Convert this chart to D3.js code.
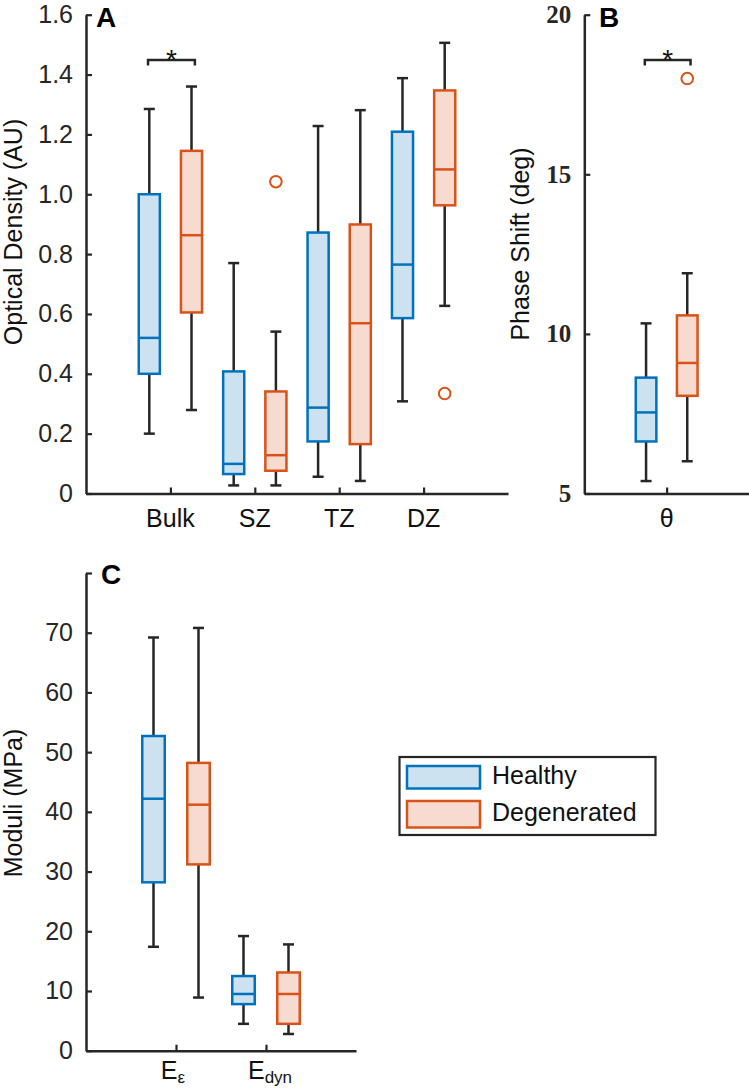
<!DOCTYPE html>
<html>
<head>
<meta charset="utf-8">
<script src="https://cdn.jsdelivr.net/npm/d3@7"></script>
<style>
  body { margin: 0; background: #fff; }
  text { font-family: "Liberation Sans", Arial, sans-serif; }
</style>
</head>
<body>
<svg id="fig" width="749" height="1090"></svg>
<script>
// box summaries are [min, q1, median, q3, max]
const zones = ["Bulk", "SZ", "TZ", "DZ"];
const odHealthy = [
    [0.20, 0.40, 0.52, 1.00, 1.285],
    [0.027, 0.065, 0.099, 0.408, 0.77],
    [0.056, 0.174, 0.287, 0.872, 1.228],
    [0.308, 0.586, 0.765, 1.209, 1.388]
];
const odDegen = [
    [0.279, 0.605, 0.863, 1.145, 1.36],
    [0.027, 0.076, 0.128, 0.341, 0.541],
    [0.042, 0.165, 0.569, 0.899, 1.281],
    [0.627, 0.963, 1.083, 1.347, 1.506]
];
const odOutliersDegen = [[1, 1.042], [3, 0.334]]; // [zone index, value]
const odTicks = [0, 0.2, 0.4, 0.6, 0.8, 1.0, 1.2, 1.4, 1.6];

const phaseCats = ["θ"];
const phaseHealthy = [[5.39, 6.63, 7.54, 8.63, 10.33]];
const phaseDegen = [[6.01, 8.06, 9.09, 10.58, 11.9]];
const phaseOutliersDegen = [[0, 18.0]];
const phaseTicks = [5, 10, 15, 20];

const moduliCats = ["E", "E"];
const moduliSubs = ["ε", "dyn"];
const moduliHealthy = [
    [17.4, 28.2, 42.2, 52.7, 69.2],
    [4.5, 7.8, 9.5, 12.5, 19.2]
];
const moduliDegen = [
    [8.9, 31.2, 41.2, 48.2, 70.8],
    [2.8, 4.5, 9.5, 13.1, 17.8]
];
const moduliTicks = [0, 10, 20, 30, 40, 50, 60, 70, 80];

const groups = ["Healthy", "Degenerated"];

const ink = "#262626";
const colors = {
    Healthy: {stroke: "#0072BD", fill: "#cde2f1"},
    Degenerated: {stroke: "#D95319", fill: "#f7dbd0"}
};

const svg = d3.select("#fig");

const drawPanel = function (opt) {
    const g = svg.append("g").attr("class", "panel-" + opt.letter);
    const n = opt.cats.length;
    const x = d3.scaleLinear().domain([0, n + 1]).range([opt.left, opt.right]);
    const y = d3.scaleLinear().domain(opt.yDomain).range([opt.bottom, opt.top]);
    const unit = x(1) - x(0);
    const boxW = 0.25 * unit,
        capW = 5.5;

    // axes, ticks pointing inward
    const yAxis = d3.axisLeft(y)
        .tickValues(opt.ticks)
        .tickFormat(opt.fmt)
        .tickSizeInner(-6)
        .tickSizeOuter(0)
        .tickPadding(13);
    const xAxis = d3.axisBottom(x)
        .tickValues(d3.range(1, n + 1))
        .tickFormat("")
        .tickSizeInner(-6)
        .tickSizeOuter(0);

    const ya = g.append("g").attr("transform", `translate(${opt.left},0)`).call(yAxis);
    const xa = g.append("g").attr("transform", `translate(0,${opt.bottom})`).call(xAxis);
    [ya, xa].forEach(a => {
        a.select(".domain").attr("stroke", ink).attr("stroke-width", 2.5);
        a.selectAll(".tick line").attr("stroke", ink).attr("stroke-width", 2.2);
    });
    ya.selectAll(".tick text")
        .attr("fill", ink)
        .style("font-family", opt.tickFont)
        .style("font-weight", opt.tickWeight)
        .style("font-size", opt.tickSize + "px");

    // category labels
    opt.cats.forEach((c, i) => {
        const t = g.append("text")
            .attr("x", x(i + 1) + (opt.labelShift ? opt.labelShift[i] : 0))
            .attr("y", opt.bottom + opt.labelDrop)
            .attr("text-anchor", "middle")
            .attr("fill", "#111")
            .style("font-size", "25px")
            .text(c);
        if (opt.subs) {
            t.append("tspan")
                .attr("dy", 4)
                .style("font-size", "17px")
                .text(opt.subs[i]);
        }
    });

    // boxes
    const series = [
        {name: "Healthy", data: opt.healthy, off: -0.25},
        {name: "Degenerated", data: opt.degen, off: 0.25}
    ];
    series.forEach(s => {
        const col = colors[s.name];
        s.data.forEach((d, i) => {
            const cx = x(i + 1 + s.off);
            const [mn, q1, md, q3, mx] = d;
            const bg = g.append("g");
            bg.append("line")
                .attr("x1", cx).attr("x2", cx)
                .attr("y1", y(mx)).attr("y2", y(q3))
                .attr("stroke", ink).attr("stroke-width", 2.5);
            bg.append("line")
                .attr("x1", cx).attr("x2", cx)
                .attr("y1", y(q1)).attr("y2", y(mn))
                .attr("stroke", ink).attr("stroke-width", 2.5);
            [mn, mx].forEach(v => {
                bg.append("line")
                    .attr("x1", cx - capW).attr("x2", cx + capW)
                    .attr("y1", y(v)).attr("y2", y(v))
                    .attr("stroke", ink).attr("stroke-width", 2.5);
            });
            bg.append("rect")
                .attr("x", cx - boxW / 2)
                .attr("width", boxW)
                .attr("y", y(q3))
                .attr("height", y(q1) - y(q3))
                .attr("fill", col.fill)
                .attr("stroke", col.stroke)
                .attr("stroke-width", 2.5);
            bg.append("line")
                .attr("x1", cx - boxW / 2).attr("x2", cx + boxW / 2)
                .attr("y1", y(md)).attr("y2", y(md))
                .attr("stroke", col.stroke).attr("stroke-width", 2.5);
        });
    });

    (opt.outliers || []).forEach(([i, v]) => {
        g.append("circle")
            .attr("cx", x(i + 1 + 0.25))
            .attr("cy", y(v))
            .attr("r", 5.8)
            .attr("fill", "none")
            .attr("stroke", colors.Degenerated.stroke)
            .attr("stroke-width", 2);
    });

    // significance bracket
    if (opt.sig) {
        const x1 = x(opt.sig.cat + 1 - 0.265),
            x2 = x(opt.sig.cat + 1 + 0.29),
            by = opt.sig.y;
        g.append("path")
            .attr("d", `M${x1},${by + 5.5}V${by}H${x2}V${by + 5.5}`)
            .attr("fill", "none")
            .attr("stroke", ink)
            .attr("stroke-width", 2.5);
        g.append("text")
            .attr("x", (x1 + x2) / 2)
            .attr("y", by + 9)
            .attr("text-anchor", "middle")
            .attr("fill", "#111")
            .style("font-size", "28px")
            .text("*");
    }

    // axis title
    g.append("text")
        .attr("transform", `translate(${opt.titleX},${opt.titleY}) rotate(-90)`)
        .attr("text-anchor", "middle")
        .attr("fill", "#111")
        .style("font-size", "25px")
        .text(opt.title);

    // panel letter
    g.append("text")
        .attr("x", opt.letterX)
        .attr("y", opt.letterY)
        .attr("fill", "#000")
        .style("font-size", "28px")
        .style("font-weight", "bold")
        .text(opt.letter);
};

drawPanel({
    letter: "A", letterX: 96, letterY: 27,
    cats: zones, healthy: odHealthy, degen: odDegen, outliers: odOutliersDegen,
    left: 86, right: 508, top: 14.7, bottom: 493.5, labelDrop: 33,
    yDomain: [0, 1.6], ticks: odTicks,
    fmt: d => d === 0 ? "0" : d3.format(".1f")(d),
    tickFont: "Liberation Sans", tickWeight: "normal", tickSize: 25,
    title: "Optical Density (AU)", titleX: 22, titleY: 232,
    sig: {cat: 0, y: 60}
});

drawPanel({
    letter: "B", letterX: 599, letterY: 27,
    cats: phaseCats, healthy: phaseHealthy, degen: phaseDegen, outliers: phaseOutliersDegen,
    left: 584.3, right: 749, top: 14.7, bottom: 493.5, labelDrop: 33,
    yDomain: [5, 20], ticks: phaseTicks,
    fmt: d3.format("d"),
    tickFont: "Liberation Serif", tickWeight: "bold", tickSize: 25,
    title: "Phase Shift (deg)", titleX: 529, titleY: 244,
    sig: {cat: 0, y: 60}
});

drawPanel({
    letter: "C", letterX: 101, letterY: 584,
    cats: moduliCats, subs: moduliSubs, healthy: moduliHealthy, degen: moduliDegen,
    labelShift: [-3, 4], labelDrop: 28,
    left: 86, right: 356, top: 573, bottom: 1050.7,
    yDomain: [0, 80], ticks: moduliTicks,
    fmt: d => d === 80 ? "" : d3.format("d")(d),
    tickFont: "Liberation Sans", tickWeight: "normal", tickSize: 25,
    title: "Moduli (MPa)", titleX: 22, titleY: 803
});

// legend
const legend = svg.append("g").attr("class", "legend");
legend.append("rect")
    .attr("x", 399.5).attr("y", 757)
    .attr("width", 256).attr("height", 78)
    .attr("fill", "#fff")
    .attr("stroke", ink)
    .attr("stroke-width", 2.2);
groups.forEach((name, i) => {
    const ly = 766 + i * 35;
    legend.append("rect")
        .attr("x", 407).attr("y", ly)
        .attr("width", 73).attr("height", 22.5 + i * 4)
        .attr("fill", colors[name].fill)
        .attr("stroke", colors[name].stroke)
        .attr("stroke-width", 2.5);
    legend.append("text")
        .attr("x", 492)
        .attr("y", 783.5 + i * 37.5)
        .attr("fill", "#111")
        .style("font-size", "25px")
        .text(name);
});
</script>
</body>
</html>
